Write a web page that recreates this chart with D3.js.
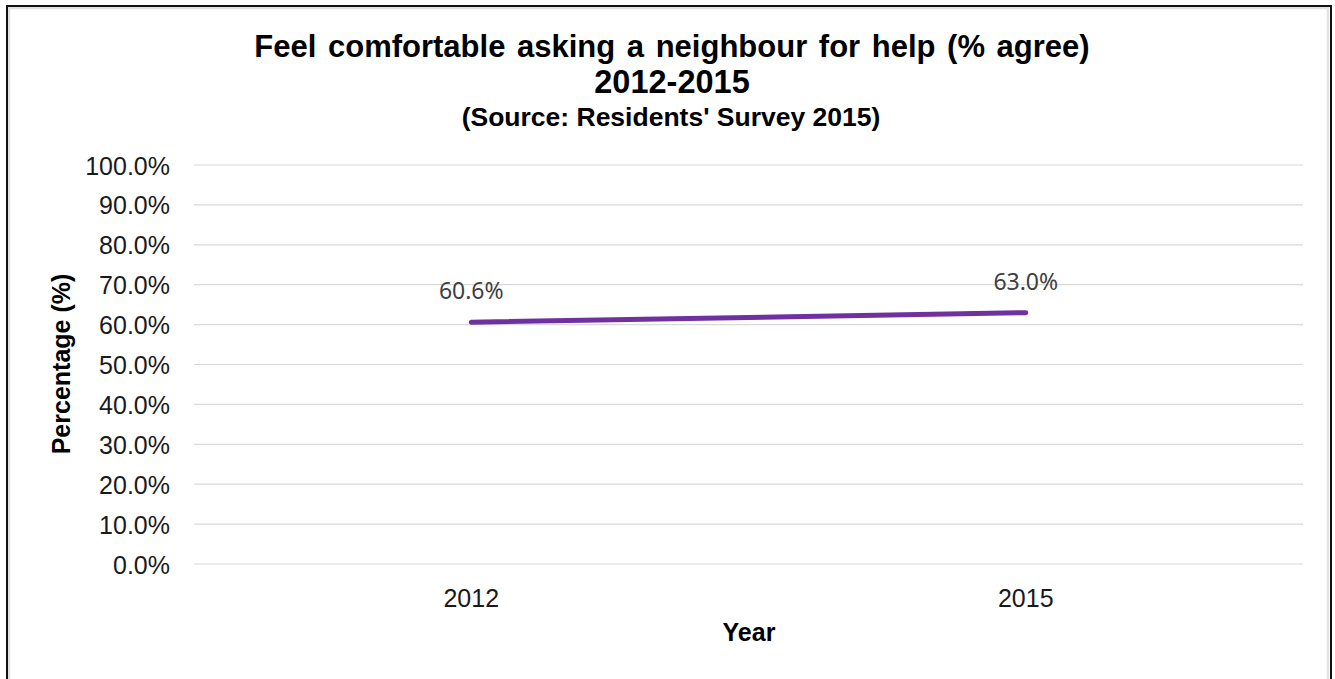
<!DOCTYPE html>
<html>
<head>
<meta charset="utf-8">
<script src="https://cdn.jsdelivr.net/npm/d3@7"></script>
<style>
  html, body { margin: 0; padding: 0; background: #fff; }
  svg { display: block; }
</style>
</head>
<body>
<svg id="chart" width="1335" height="679"></svg>
<script>
// Survey results: share of residents who agree
const years = ["2012", "2015"];
const agreeValues = [60.6, 63.0];
const yTicks = [0, 10, 20, 30, 40, 50, 60, 70, 80, 90, 100];
const titleLines = [
  "Feel comfortable asking a neighbour for help (% agree)",
  "2012-2015"
];
const subtitle = "(Source: Residents' Survey 2015)";

const svg = d3.select("#chart");
const W = 1335, H = 679;
const plot = { left: 194, right: 1303, top: 165, bottom: 564 };
const fontArial = "Liberation Sans, Arial, sans-serif";

// frame around the chart (open at the bottom)
svg.append("rect").attr("x", 9).attr("y", 8).attr("width", 1319).attr("height", H)
  .attr("fill", "none").attr("stroke", "#e2e2e2").attr("stroke-width", 2.5);
svg.append("rect").attr("x", 7).attr("y", 6).attr("width", 1324).attr("height", H + 10)
  .attr("fill", "none").attr("stroke", "#111").attr("stroke-width", 2);

const x = d3.scaleBand().domain(years).range([plot.left, plot.right]);
const y = d3.scaleLinear().domain([0, 100]).range([plot.bottom, plot.top]);

// horizontal gridlines
svg.append("g")
  .selectAll("line")
  .data(yTicks)
  .join("line")
  .attr("x1", plot.left).attr("x2", plot.right)
  .attr("y1", d => y(d)).attr("y2", d => y(d))
  .attr("stroke", "#d9d9d9").attr("stroke-width", 1.2);

// y axis labels
const yAxis = d3.axisLeft(y).tickValues(yTicks).tickSize(0).tickPadding(0)
  .tickFormat(d => d.toFixed(1) + "%");
const gy = svg.append("g").attr("transform", `translate(${plot.left - 24},0)`).call(yAxis);
gy.select(".domain").remove();
gy.selectAll("text")
  .attr("font-family", fontArial)
  .attr("font-size", 25).attr("fill", "#1a1a1a").attr("dy", "0.36em");

// x axis labels
const xAxis = d3.axisBottom(x).tickSize(0).tickPadding(0);
const gx = svg.append("g").attr("transform", `translate(0,${y(0)})`).call(xAxis);
gx.select(".domain").remove();
gx.selectAll("text")
  .attr("font-family", fontArial)
  .attr("font-size", 25).attr("fill", "#1a1a1a").attr("dy", 0).attr("y", 43);

// series line
const pts = years.map((yr, i) => ({ yr, v: agreeValues[i] }));
const line = d3.line().x(d => x(d.yr) + x.bandwidth() / 2).y(d => y(d.v));
svg.append("path").datum(pts).attr("d", line)
  .attr("fill", "none").attr("stroke", "#7030a0").attr("stroke-width", 5)
  .attr("stroke-linecap", "round");

// data labels
svg.append("g").selectAll("text").data(pts).join("text")
  .attr("x", d => x(d.yr) + x.bandwidth() / 2)
  .attr("y", d => y(d.v) - 23)
  .attr("text-anchor", "middle")
  .attr("font-family", "Noto Sans, sans-serif")
  .attr("font-size", 23).attr("fill", "#404040")
  .text(d => d.v.toFixed(1) + "%");

// titles
svg.append("text").attr("x", 672).attr("y", 57).attr("text-anchor", "middle")
  .attr("font-family", fontArial).attr("font-weight", "bold")
  .attr("font-size", 31).attr("word-spacing", 3).attr("fill", "#000").text(titleLines[0]);
svg.append("text").attr("x", 672).attr("y", 93).attr("text-anchor", "middle")
  .attr("font-family", fontArial).attr("font-weight", "bold")
  .attr("font-size", 32.5).attr("fill", "#000").text(titleLines[1]);
svg.append("text").attr("x", 671).attr("y", 126).attr("text-anchor", "middle")
  .attr("font-family", fontArial).attr("font-weight", "bold")
  .attr("font-size", 26.5).attr("fill", "#000").text(subtitle);

// axis titles
svg.append("text").attr("x", 749).attr("y", 641).attr("text-anchor", "middle")
  .attr("font-family", fontArial).attr("font-weight", "bold")
  .attr("font-size", 25).attr("fill", "#000").text("Year");
svg.append("text").attr("transform", "translate(70,364) rotate(-90)").attr("text-anchor", "middle")
  .attr("font-family", fontArial).attr("font-weight", "bold")
  .attr("font-size", 25).attr("fill", "#000").text("Percentage (%)");
</script>
</body>
</html>
